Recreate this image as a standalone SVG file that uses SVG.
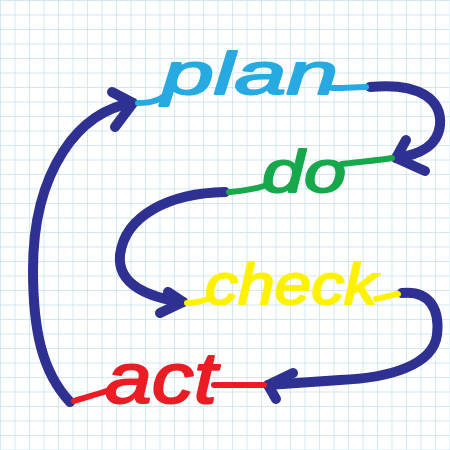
<svg xmlns="http://www.w3.org/2000/svg" width="450" height="450" viewBox="0 0 450 450">
<defs>
<pattern id="grid" width="14.5" height="14.5" patternUnits="userSpaceOnUse">
<path d="M0,0 V14.5 M0,0 H14.5" fill="none" stroke="#c3e1ec" stroke-width="1.4"/>
</pattern>
<style>
.word{font-family:"Liberation Sans",Arial,sans-serif;font-style:italic;stroke-linejoin:round;stroke-width:2}
.lead{fill:none;stroke-width:6;stroke-linecap:round;stroke-linejoin:round}
.conn{fill:none;stroke:#2e3192;stroke-width:10;stroke-linecap:round;stroke-linejoin:round}
</style>
</defs>
<rect width="450" height="450" fill="#ffffff"/>
<rect width="450" height="450" fill="url(#grid)"/>
<g id="connectors">
<path class="conn" d="M70,402 C42,372 33,330 33,270 C33,170 80,110 133,103"/>
<path class="conn" d="M112,92 L133,103 L115,127"/>
<path class="conn" d="M370,87 C420,82 442,100 440,125 C438,145 420,155 396,158"/>
<path class="conn" d="M406,140 L396,158 L425,171"/>
<path class="conn" d="M225,192 C170,193 125,215 120,255 C117,285 150,298 183,302"/>
<path class="conn" d="M168,292 L183,302 L160,313"/>
<path class="conn" d="M402,293 C430,290 440,310 437,335 C433,365 390,378 340,380 L268,385"/>
<path class="conn" d="M293,373 L268,385 L276,399"/>
</g>
<g id="plan">
<path class="lead" stroke="#27aae1" d="M138,103 C150,103 162,100 168,92 M332,88 C345,88 358,87 366,87"/>
<text class="word" x="162" y="94" font-size="60" textLength="176" lengthAdjust="spacingAndGlyphs" fill="#27aae1" stroke="#27aae1">plan</text>
</g>
<g id="do">
<path class="lead" stroke="#16a84b" d="M392,158 C380,160 360,162 342,164 M229,192 C240,191 252,190 264,186"/>
<text class="word" x="262" y="192" font-size="60" textLength="84" lengthAdjust="spacingAndGlyphs" fill="#16a84b" stroke="#16a84b">do</text>
</g>
<g id="check">
<path class="lead" stroke="#fff200" d="M187,303 C194,303 200,302 208,299 M376,299 C386,297 392,295 398,294"/>
<text class="word" x="205" y="304" font-size="58" textLength="172" lengthAdjust="spacingAndGlyphs" fill="#fff200" stroke="#fff200">check</text>
</g>
<g id="act">
<path class="lead" stroke="#ec1c24" d="M74,401 C87,397 98,394 110,390 M214,385 C230,385 250,385 264,385"/>
<text class="word" x="105" y="403" font-size="72" textLength="112" lengthAdjust="spacingAndGlyphs" fill="#ec1c24" stroke="#ec1c24">act</text>
</g>
</svg>
